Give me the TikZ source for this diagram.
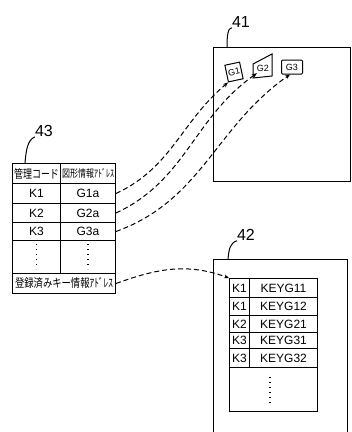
\documentclass[tikz,border=0pt]{standalone}
\usepackage{fontspec}
\setmainfont{Liberation Sans}
\newfontfamily\jp{Noto Sans CJK JP}
\usetikzlibrary{arrows.meta}
\begin{document}
\begin{tikzpicture}[x=1pt,y=-1pt,
  cell/.style={draw, line width=1pt, inner sep=0pt, anchor=north west, font=\fontsize{12}{12}\selectfont},
  frame/.style={draw, line width=1.2pt, inner sep=0pt, anchor=north west},
  link/.style={dash pattern=on 5pt off 3pt, line width=1pt, -{Stealth[length=5pt,width=4pt]}},
  lab/.style={inner sep=0pt, font=\fontsize{16}{16}\selectfont},
  leader/.style={line width=1pt},
  gfig/.style={inner sep=1.5pt, line width=1pt, font=\fontsize{9}{9}\selectfont},
  dots/.style={line width=1.4pt, dash pattern=on 1.4pt off 3.6pt}
  ]
\useasboundingbox (0,0) rectangle (352,432);

% frames 41 and 42
\node[frame, minimum width=137pt, minimum height=134pt] (b41) at (213,47) {};
\node[frame, minimum width=134pt, minimum height=200pt] (b42) at (213,259) {};

% labels
\node[lab] (l41) at (241,22) {41};
\node[lab] (l42) at (246,235) {42};
\node[lab] (l43) at (44,131) {43};
\coordinate (t41) at (227,47);
\coordinate (t42) at (228,259);
\coordinate (t43) at (25,163);
\draw[leader] (t41) .. controls (227,35) and (228,28) .. (l41.south west);
\draw[leader] (t42) .. controls (229,249) and (230,243) .. (l42.south west);
\draw[leader] (t43) .. controls (26,152) and (27,140) .. (l43.south west);

% table 43
\node[cell, minimum width=48pt, minimum height=20pt] (h1) at (12,163) {\resizebox{45pt}{10pt}{\jp 管理コード}};
\node[cell, minimum width=55pt, minimum height=20pt] (h2) at (60,163) {\resizebox{52pt}{9pt}{\jp 図形情報ｱﾄﾞﾚｽ}};
\node[cell, minimum width=48pt, minimum height=20pt] (k1) at (12,183) {K1};
\node[cell, minimum width=55pt, minimum height=20pt] (g1a) at (60,183) {G1a};
\node[cell, minimum width=48pt, minimum height=19pt] (k2) at (12,203) {K2};
\node[cell, minimum width=55pt, minimum height=19pt] (g2a) at (60,203) {G2a};
\node[cell, minimum width=48pt, minimum height=18pt] (k3) at (12,222) {K3};
\node[cell, minimum width=55pt, minimum height=18pt] (g3a) at (60,222) {G3a};
\node[cell, minimum width=48pt, minimum height=33pt] (kd) at (12,240) {};
\node[cell, minimum width=55pt, minimum height=33pt] (gd) at (60,240) {};
\node[cell, minimum width=103pt, minimum height=20pt] (reg) at (12,273) {\resizebox{98pt}{10pt}{\jp 登録済みキー情報ｱﾄﾞﾚｽ}};
\draw[dots] ([yshift=-4pt]kd.north) -- ([yshift=5pt]kd.south);
\draw[dots] ([yshift=-4pt]gd.north) -- ([yshift=5pt]gd.south);

% inner table 42
\node[cell, minimum width=20pt, minimum height=19pt] (a1) at (229,278) {K1};
\node[cell, minimum width=68pt, minimum height=19pt] (c1) at (249,278) {KEYG11};
\node[cell, minimum width=20pt, minimum height=18pt] (a2) at (229,297) {K1};
\node[cell, minimum width=68pt, minimum height=18pt] (c2) at (249,297) {KEYG12};
\node[cell, minimum width=20pt, minimum height=17pt] (a3) at (229,315) {K2};
\node[cell, minimum width=68pt, minimum height=17pt] (c3) at (249,315) {KEYG21};
\node[cell, minimum width=20pt, minimum height=16pt] (a4) at (229,332) {K3};
\node[cell, minimum width=68pt, minimum height=16pt] (c4) at (249,332) {KEYG31};
\node[cell, minimum width=20pt, minimum height=19pt] (a5) at (229,348) {K3};
\node[cell, minimum width=68pt, minimum height=19pt] (c5) at (249,348) {KEYG32};
\node[cell, minimum width=88pt, minimum height=44pt] (a6) at (229,367) {};
\coordinate (dtop) at (270,377);
\coordinate (dbot) at (270,403);
\draw[dots] (dtop) -- (dbot);

% figures G1 G2 G3
\node[gfig, draw, rotate=12, minimum width=14pt, minimum height=17pt] (g1) at (234,72) {G1};
\node[gfig] (g2) at (263,68) {G2};
\draw[line width=1pt] (253,64) -- (272,54) -- (272,76) -- (253,78) -- cycle;
\node[gfig, draw, rounded corners=1pt, minimum width=21pt, minimum height=14pt] (g3) at (292,67) {G3};

% connectors
\draw[link] (g1a.east) to[out=25,in=220] (g1.south west);
\draw[link] (g2a.east) to[out=25,in=215] ([xshift=2pt]g2.south west);
\draw[link] (g3a.east) to[out=20,in=215] ([xshift=-2pt]g3.south);
\draw[link] (reg.east) to[out=20,in=160] (a1.north west);
\end{tikzpicture}
\end{document}
